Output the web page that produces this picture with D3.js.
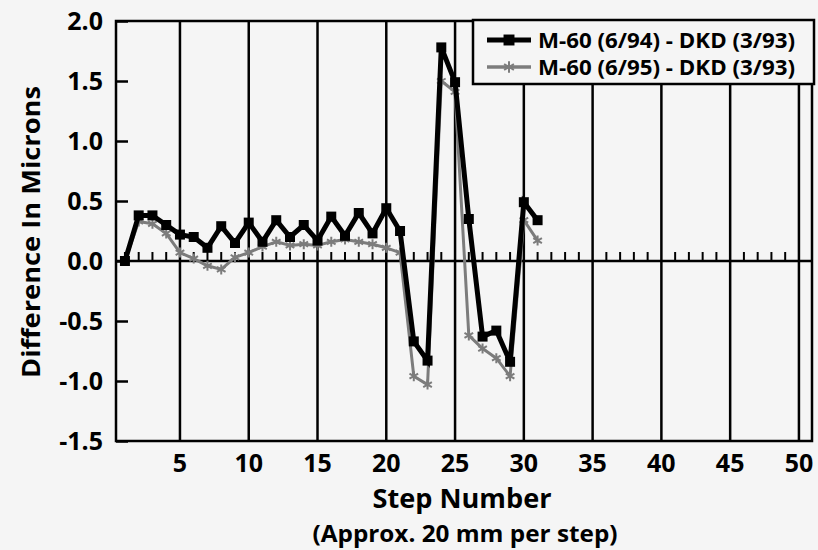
<!DOCTYPE html>
<html>
<head>
<meta charset="utf-8">
<script src="https://cdn.jsdelivr.net/npm/d3@7"></script>
<style>
    body { margin:0; background:#f5f5f5; }
    text { font-family:"Open Sans", "DejaVu Sans", sans-serif; font-weight:700; fill:#000; }
</style>
</head>
<body>
<div id="chart"></div>
<script>
// step numbers and the two difference series (microns)
var steps = d3.range(1, 32);
var m60_94 = [0.00, 0.38, 0.38, 0.30, 0.22, 0.20, 0.11, 0.29, 0.15, 0.32,
              0.16, 0.34, 0.20, 0.30, 0.17, 0.37, 0.21, 0.40, 0.23, 0.44,
              0.25, -0.67, -0.83, 1.78, 1.49, 0.35, -0.63, -0.58, -0.84, 0.49, 0.34];
var m60_95 = [0.00, 0.33, 0.31, 0.23, 0.07, 0.02, -0.04, -0.07, 0.03, 0.07,
              0.12, 0.16, 0.13, 0.14, 0.13, 0.16, 0.18, 0.16, 0.14, 0.11,
              0.07, -0.96, -1.03, 1.50, 1.41, -0.62, -0.73, -0.81, -0.96, 0.34, 0.17];
var xTicks = [5, 10, 15, 20, 25, 30, 35, 40, 45, 50];
var yTicks = [-1.5, -1.0, -0.5, 0.0, 0.5, 1.0, 1.5, 2.0];
var seriesNames = ["M-60 (6/94) - DKD (3/93)", "M-60 (6/95) - DKD (3/93)"];

var W = 818, H = 550;
var pLeft = 116, pRight = 812, pTop = 21, pBottom = 441;

var svg = d3.select("#chart").append("svg")
    .attr("width", W).attr("height", H);

var x = d3.scaleLinear().domain([0.35, 50.95]).range([pLeft, pRight]);
var y = d3.scaleLinear().domain([-1.5, 2.0]).range([pBottom, pTop]);

// vertical grid lines at every 5 steps
svg.selectAll(".grid").data(xTicks).enter().append("line")
    .attr("x1", function(d){ return x(d); }).attr("x2", function(d){ return x(d); })
    .attr("y1", pTop).attr("y2", pBottom)
    .attr("stroke", "#000").attr("stroke-width", 2.5);

// small step ticks on the zero line
var minor = d3.range(1, 51).filter(function(d){ return d % 5 != 0; });
svg.selectAll(".minor").data(minor).enter().append("line")
    .attr("x1", function(d){ return x(d); }).attr("x2", function(d){ return x(d); })
    .attr("y1", y(0)).attr("y2", y(0) - 9)
    .attr("stroke", "#000").attr("stroke-width", 2);

svg.append("line")
    .attr("x1", pLeft).attr("x2", pRight).attr("y1", y(0)).attr("y2", y(0))
    .attr("stroke", "#000").attr("stroke-width", 2.5);

// frame
svg.append("rect")
    .attr("x", pLeft).attr("y", pTop)
    .attr("width", pRight - pLeft).attr("height", pBottom - pTop)
    .attr("fill", "none").attr("stroke", "#000").attr("stroke-width", 2.5);

// y axis: inward ticks, labels on the left
var yAxis = d3.axisRight(y).tickValues(yTicks).tickSize(12).tickFormat("");
svg.append("g").attr("transform", "translate(" + pLeft + ",0)").call(yAxis)
    .call(function(g){ g.select(".domain").remove(); })
    .selectAll("line").attr("stroke", "#000").attr("stroke-width", 2.5);

svg.selectAll(".ylab").data(yTicks).enter().append("text")
    .attr("x", 103).attr("y", function(d){ return y(d); })
    .attr("dy", "0.36em")
    .attr("text-anchor", "end")
    .style("font-size", "25px")
    .text(function(d){ return d.toFixed(1); });

svg.selectAll(".xlab").data(xTicks).enter().append("text")
    .attr("x", function(d){ return x(d); }).attr("y", 472)
    .attr("text-anchor", "middle")
    .style("font-size", "25px")
    .text(function(d){ return d; });

// axis titles
svg.append("text")
    .attr("x", 462).attr("y", 508)
    .attr("text-anchor", "middle")
    .attr("textLength", 179).attr("lengthAdjust", "spacingAndGlyphs")
    .style("font-size", "26px")
    .text("Step Number");

svg.append("text")
    .attr("x", 465).attr("y", 542)
    .attr("text-anchor", "middle")
    .attr("textLength", 305).attr("lengthAdjust", "spacingAndGlyphs")
    .style("font-size", "24px")
    .text("(Approx. 20 mm per step)");

svg.append("text")
    .attr("transform", "translate(40,232) rotate(-90)")
    .attr("text-anchor", "middle")
    .attr("textLength", 292).attr("lengthAdjust", "spacingAndGlyphs")
    .style("font-size", "25px")
    .text("Difference In Microns");

// series lines
var line = d3.line()
    .x(function(d){ return x(d[0]); })
    .y(function(d){ return y(d[1]); });

var s1 = d3.zip(steps, m60_94);
var s2 = d3.zip(steps, m60_95);
var grey = "#7c7c7c";

svg.append("path").datum(s2)
    .attr("d", line).attr("fill", "none")
    .attr("stroke", grey).attr("stroke-width", 3)
    .attr("stroke-linejoin", "round");

svg.selectAll(".m2").data(s2).enter().append("path")
    .attr("transform", function(d){ return "translate(" + x(d[0]) + "," + y(d[1]) + ")"; })
    .attr("d", d3.symbol().type(d3.symbolAsterisk).size(70))
    .attr("fill", "none").attr("stroke", grey).attr("stroke-width", 2);

svg.append("path").datum(s1)
    .attr("d", line).attr("fill", "none")
    .attr("stroke", "#000").attr("stroke-width", 5)
    .attr("stroke-linejoin", "miter");

svg.selectAll(".m1").data(s1).enter().append("path")
    .attr("transform", function(d){ return "translate(" + x(d[0]) + "," + y(d[1]) + ")"; })
    .attr("d", d3.symbol().type(d3.symbolSquare).size(100))
    .attr("fill", "#000");

// legend box in the top right corner
var lg = svg.append("g");
lg.append("rect")
    .attr("x", 473).attr("y", 20).attr("width", 341).attr("height", 64)
    .attr("fill", "#f5f5f5").attr("stroke", "#000").attr("stroke-width", 2.5);

var rows = lg.selectAll(".row").data(seriesNames).enter().append("g")
    .attr("transform", function(d, i){ return "translate(0," + (40 + i * 27) + ")"; });

rows.append("line")
    .attr("x1", 487).attr("x2", 531).attr("y1", 0).attr("y2", 0)
    .attr("stroke", function(d, i){ return i == 0 ? "#000" : grey; })
    .attr("stroke-width", function(d, i){ return i == 0 ? 5 : 3.5; });

rows.append("path")
    .attr("transform", "translate(509,0)")
    .attr("d", function(d, i){
        return d3.symbol().type(i == 0 ? d3.symbolSquare : d3.symbolAsterisk).size(i == 0 ? 120 : 90)();
    })
    .attr("fill", function(d, i){ return i == 0 ? "#000" : "none"; })
    .attr("stroke", function(d, i){ return i == 0 ? "none" : grey; })
    .attr("stroke-width", 2);

rows.append("text")
    .attr("x", 538).attr("y", 8)
    .attr("textLength", 257).attr("lengthAdjust", "spacingAndGlyphs")
    .style("font-size", "22px")
    .text(function(d){ return d; });
</script>
</body>
</html>
